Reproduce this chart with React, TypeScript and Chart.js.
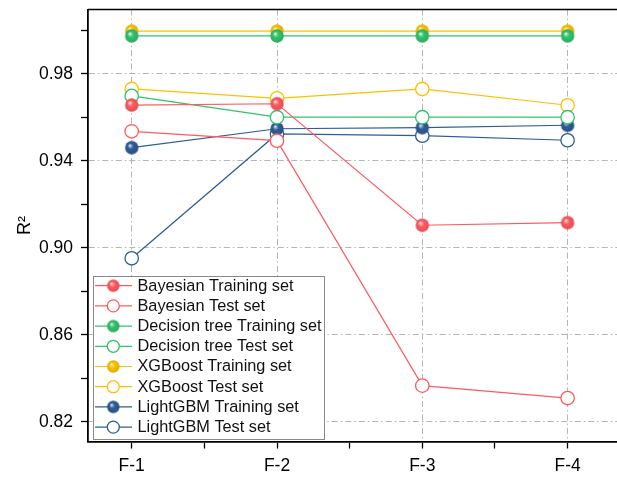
import React, { useEffect, useRef } from "react";
import { Chart, registerables } from "chart.js";

Chart.register(...registerables);

const categories = ["F-1", "F-2", "F-3", "F-4"];
const bayesTrain = [0.9657, 0.9663, 0.9104, 0.9116];
const bayesTest = [0.9536, 0.9493, 0.8366, 0.8309];
const dtTrain = [0.9975, 0.9975, 0.9975, 0.9975];
const dtTest = [0.9699, 0.9601, 0.9601, 0.9601];
const xgbTrain = [0.9997, 0.9997, 0.9997, 0.9997];
const xgbTest = [0.9731, 0.9688, 0.9731, 0.9656];
const lgbTrain = [0.9461, 0.9548, 0.9553, 0.9564];
const lgbTest = [0.8952, 0.9524, 0.9516, 0.9495];

const yTicks = [0.82, 0.84, 0.86, 0.88, 0.9, 0.92, 0.94, 0.96, 0.98, 1.0];
const xTicks = [0, 0.5, 1, 1.5, 2, 2.5, 3];

const RED = "#FF5A5F";
const GREEN = "#2FC36B";
const GOLD = "#FFC000";
const BLUE = "#2D5C96";

const FONT = "'Liberation Sans', Arial, sans-serif";

function hexToRgb(h: string) {
  const n = parseInt(h.slice(1), 16);
  return [(n >> 16) & 255, (n >> 8) & 255, n & 255];
}
function mix(h: string, t: number, target: number) {
  const c = hexToRgb(h).map((v) => Math.round(v + (target - v) * t));
  return `rgb(${c[0]},${c[1]},${c[2]})`;
}

function sphere(color: string, r: number) {
  const size = Math.ceil(r * 2 + 2);
  const c = document.createElement("canvas");
  c.width = size;
  c.height = size;
  const g = c.getContext("2d")!;
  const cx = size / 2;
  const cy = size / 2;
  const grad = g.createRadialGradient(cx - r * 0.3, cy - r * 0.35, r * 0.03, cx, cy, r);
  grad.addColorStop(0, "#ffffff");
  grad.addColorStop(0.15, mix(color, 0.5, 255));
  grad.addColorStop(0.42, color);
  grad.addColorStop(1, mix(color, 0.12, 0));
  g.fillStyle = grad;
  g.beginPath();
  g.arc(cx, cy, r, 0, Math.PI * 2);
  g.fill();
  return c;
}

function noPadding(scale: any) {
  scale._calculatePadding = function () {
    this.paddingLeft = 0;
    this.paddingRight = 0;
    this.paddingTop = 0;
    this.paddingBottom = 0;
  };
}

type SeriesDef = { label: string; data: number[]; color: string; filled: boolean };

const series: SeriesDef[] = [
  { label: "Bayesian Training set", data: bayesTrain, color: RED, filled: true },
  { label: "Bayesian Test set", data: bayesTest, color: RED, filled: false },
  { label: "Decision tree Training set", data: dtTrain, color: GREEN, filled: true },
  { label: "Decision tree Test set", data: dtTest, color: GREEN, filled: false },
  { label: "XGBoost Training set", data: xgbTrain, color: GOLD, filled: true },
  { label: "XGBoost Test set", data: xgbTest, color: GOLD, filled: false },
  { label: "LightGBM Training set", data: lgbTrain, color: BLUE, filled: true },
  { label: "LightGBM Test set", data: lgbTest, color: BLUE, filled: false },
];

export default function App() {
  const ref = useRef<HTMLCanvasElement>(null);

  useEffect(() => {
    if (!ref.current) return;
    const R = 6.7;
    const sprites: Record<string, HTMLCanvasElement> = {};
    const legendSprites: Record<string, HTMLCanvasElement> = {};
    series.forEach((s) => {
      if (s.filled) {
        sprites[s.color] = sphere(s.color, R);
        legendSprites[s.color] = sphere(s.color, 6.2);
      }
    });

    const datasets = series.map((s) => ({
      label: s.label,
      data: s.data.map((v, i) => ({ x: i, y: v })),
      borderColor: s.color,
      borderWidth: 1.2,
      backgroundColor: "#ffffff",
      pointStyle: s.filled ? sprites[s.color] : "circle",
      pointRadius: R,
      pointHoverRadius: R,
      pointBorderColor: s.color,
      pointBackgroundColor: "#ffffff",
      pointBorderWidth: 1.3,
      fill: false,
      tension: 0,
      clip: 10,
    }));

    const frame = {
      id: "frame",
      afterDraw(chart: any) {
        const { ctx, chartArea } = chart;
        ctx.save();
        ctx.strokeStyle = "#000";
        ctx.lineWidth = 1.6;
        ctx.beginPath();
        ctx.moveTo(chartArea.left, chartArea.top);
        ctx.lineTo(chartArea.right + 2, chartArea.top);
        ctx.stroke();
        ctx.restore();
      },
    };

    const legend = {
      id: "customLegend",
      afterDraw(chart: any) {
        const ctx = chart.ctx as CanvasRenderingContext2D;
        const x0 = 93.5;
        const y0 = 276.5;
        const w = 231;
        const h = 163;
        ctx.save();
        ctx.fillStyle = "#ffffff";
        ctx.fillRect(x0, y0, w, h);
        ctx.strokeStyle = "#8a8a8a";
        ctx.lineWidth = 1;
        ctx.strokeRect(x0, y0, w, h);
        ctx.font = `16.3px ${FONT}`;
        ctx.textBaseline = "middle";
        series.forEach((s, i) => {
          const y = 285.7 + i * 20.2;
          ctx.strokeStyle = s.color;
          ctx.lineWidth = 1.2;
          ctx.beginPath();
          ctx.moveTo(95, y);
          ctx.lineTo(132, y);
          ctx.stroke();
          if (s.filled) {
            const sp = legendSprites[s.color];
            ctx.drawImage(sp, 113.3 - sp.width / 2, y - sp.height / 2);
          } else {
            ctx.fillStyle = "#ffffff";
            ctx.beginPath();
            ctx.arc(113.3, y, 6, 0, Math.PI * 2);
            ctx.fill();
            ctx.lineWidth = 1.3;
            ctx.stroke();
          }
          ctx.fillStyle = "#111";
          ctx.fillText(s.label, 137.5, y + 0.5);
        });
        ctx.restore();
      },
    };

    const chart = new Chart(ref.current, {
      type: "line",
      data: { datasets: datasets as any },
      plugins: [frame, legend],
      options: {
        animation: false,
        responsive: false,
        layout: { autoPadding: false, padding: { top: 9.5, left: 0, right: 0, bottom: 0 } },
        plugins: { legend: { display: false }, tooltip: { enabled: false } },
        scales: {
          x: {
            type: "linear",
            min: -0.3008,
            max: 3.34,
            beforeFit: noPadding,
            afterBuildTicks: (scale: any) => {
              scale.ticks = xTicks.map((v) => ({ value: v }));
            },
            afterFit: (scale: any) => {
              scale.height = 35.5;
            },
            ticks: {
              autoSkip: false,
              maxRotation: 0,
              padding: 7,
              color: "#000",
              font: { family: FONT, size: 17.5 },
              callback: (v: any) => (Number.isInteger(v) ? categories[v] : ""),
            },
            grid: {
              color: (c: any) =>
                c.tick && Number.isInteger(c.tick.value) ? "#b5b5b5" : "transparent",
              lineWidth: 1,
              drawTicks: true,
              tickLength: 7,
              tickColor: "#000",
              tickWidth: 1.3,
            },
            border: { display: true, color: "#000", width: 1.8, dash: [6, 3, 1.5, 3] },
          },
          y: {
            type: "linear",
            min: 0.8109,
            max: 1.00966,
            beforeFit: noPadding,
            afterBuildTicks: (scale: any) => {
              scale.ticks = yTicks.map((v) => ({ value: v }));
            },
            afterFit: (scale: any) => {
              scale.width = 88;
            },
            ticks: {
              autoSkip: false,
              padding: 8,
              color: "#000",
              font: { family: FONT, size: 17.5 },
              callback: (v: any, i: number) => (i % 2 === 0 ? Number(v).toFixed(2) : ""),
            },
            grid: {
              color: (c: any) => (c.index % 2 === 0 ? "#b5b5b5" : "transparent"),
              lineWidth: 1,
              drawTicks: true,
              tickLength: 7,
              tickColor: "#000",
              tickWidth: 1.3,
            },
            border: { display: true, color: "#000", width: 1.8, dash: [6, 3, 1.5, 3] },
            title: {
              display: true,
              text: "R²",
              color: "#000",
              font: { family: FONT, size: 18 },
              padding: { top: 14, bottom: 0 },
            },
          },
        },
      },
    });
    return () => chart.destroy();
  }, []);

  return (
    <div style={{ position: "absolute", left: 0, top: 0, width: 617, height: 477, background: "#fff" }}>
      <canvas ref={ref} width={617} height={477} style={{ display: "block" }} />
    </div>
  );
}
